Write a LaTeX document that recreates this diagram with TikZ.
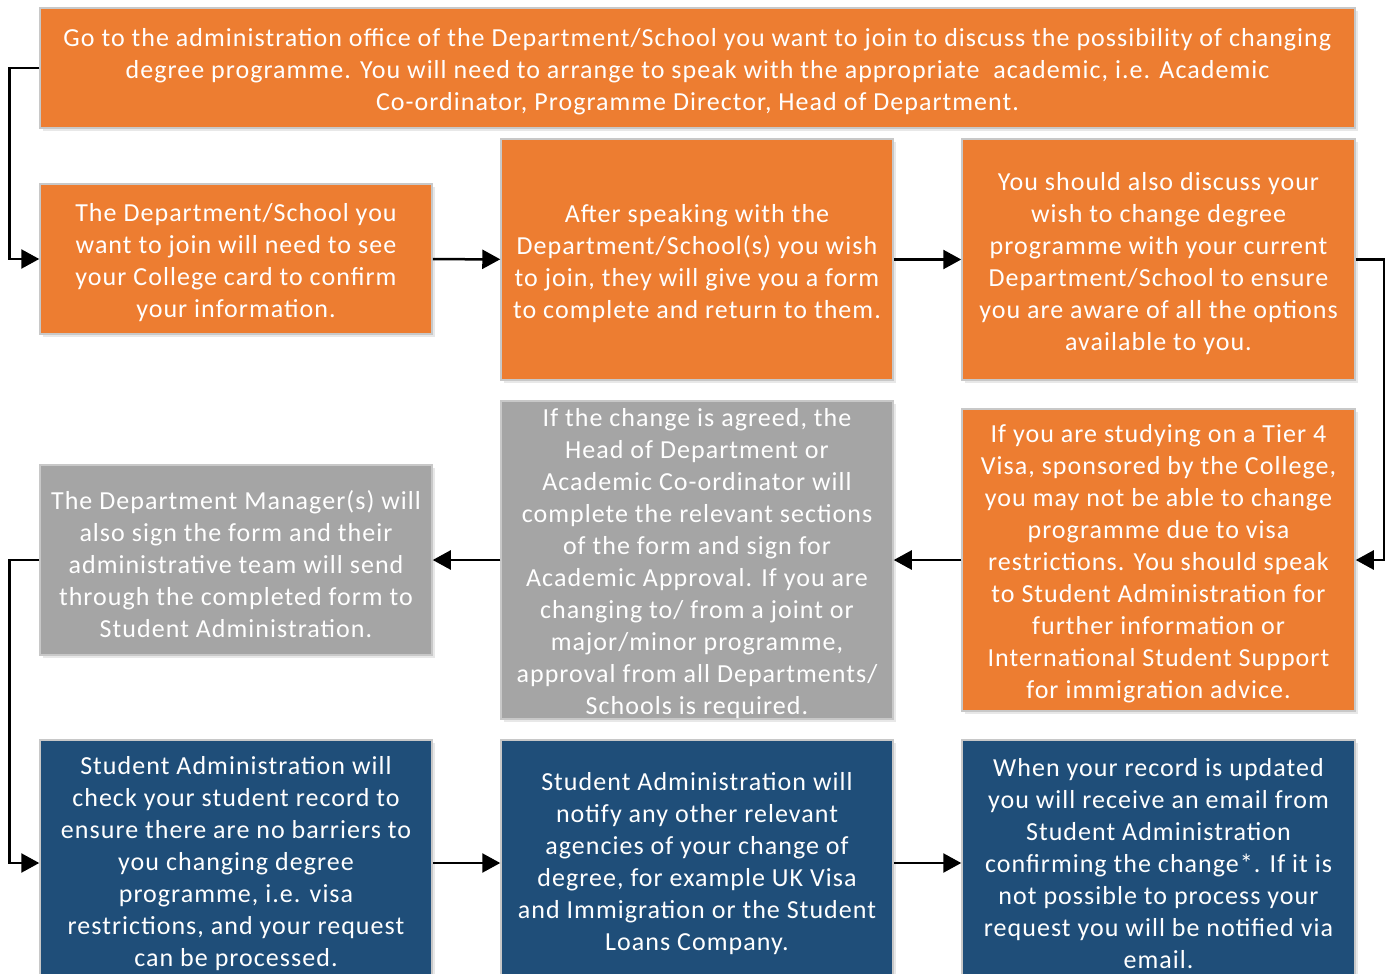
\documentclass[tikz,border=0pt]{standalone}
\usepackage{fontspec}
\setmainfont{Carlito}[LetterSpace=4]
\usetikzlibrary{arrows.meta,shadows}
\definecolor{orangebox}{HTML}{ED7D31}
\definecolor{graybox}{HTML}{A5A5A5}
\definecolor{bluebox}{HTML}{1F4E79}
\definecolor{edgegray}{HTML}{C8C8C8}
\tikzset{
  card/.style={draw=edgegray, line width=1.5pt, inner sep=0pt,
    drop shadow={opacity=0.18, shadow xshift=3pt, shadow yshift=-3pt}},
  cardtext/.style={text=white, align=center, inner sep=0pt,
    font=\fontsize{26}{32}\selectfont},
  orangecard/.style={card, fill=orangebox},
  graycard/.style={card, fill=graybox},
  bluecard/.style={card, fill=bluebox},
  link/.style={draw=black, line width=2.5pt, -{Triangle[length=18pt,width=19pt]}},
}
% #1 style, #2 name, #3-#6 x1 x2 y1 y2, #7 text drop, #8 text
\newcommand{\boxat}[8]{%
  \node[#1, minimum width=#4-#3, minimum height=#6-#5] (#2) at ({(#3+#4)/2},{(#5+#6)/2}) {};
  \node[cardtext] (#2-text) at ([yshift=-#7]#2.center) {#8};}
\begin{document}
\begin{tikzpicture}[x=1pt,y=-1pt]
\path[use as bounding box] (0,0) rectangle (1390,974);
\clip (0,0) rectangle (1390,974);
\fill[white] (0,0) rectangle (1390,974);
\boxat{orangecard}{top}{40}{1355}{8}{128}{4pt}{Go to the administration office of the Department/School you want to join to discuss the possibility of changing\\ degree programme. You will need to arrange to speak with the appropriate\ \ academic, i.e. Academic\\ Co-ordinator, Programme Director, Head of Department.}
\boxat{orangecard}{a}{40}{432}{184}{334}{4pt}{The Department/School you\\ want to join will need to see\\ your College card to confirm\\ your information.}
\boxat{orangecard}{b}{501}{893}{139}{380}{4pt}{After speaking with the\\ Department/School(s) you wish\\ to join, they will give you a form\\ to complete and return to them.}
\boxat{orangecard}{c}{962}{1355}{139}{380}{4pt}{You should also discuss your\\ wish to change degree\\ programme with your current\\ Department/School to ensure\\ you are aware of all the options\\ available to you.}
\boxat{graycard}{d}{40}{432}{465}{655}{4pt}{The Department Manager(s) will\\ also sign the form and their\\ administrative team will send\\ through the completed form to\\ Student Administration.}
\boxat{graycard}{e}{501}{893}{401}{719}{4pt}{If the change is agreed, the\\ Head of Department or\\ Academic Co-ordinator will\\ complete the relevant sections\\ of the form and sign for\\ Academic Approval. If you are\\ changing to/ from a joint or\\ major/minor programme,\\ approval from all Departments/\\ Schools is required.}
\boxat{orangecard}{f}{962}{1355}{409}{711}{4pt}{If you are studying on a Tier 4\\ Visa, sponsored by the College,\\ you may not be able to change\\ programme due to visa\\ restrictions. You should speak\\ to Student Administration for\\ further information or\\ International Student Support\\ for immigration advice.}
\boxat{bluecard}{g}{40}{432}{740}{986}{1pt}{Student Administration will\\ check your student record to\\ ensure there are no barriers to\\ you changing degree\\ programme, i.e. visa\\ restrictions, and your request\\ can be processed.}
\boxat{bluecard}{h}{501}{893}{740}{986}{1pt}{Student Administration will\\ notify any other relevant\\ agencies of your change of\\ degree, for example UK Visa\\ and Immigration or the Student\\ Loans Company.}
\boxat{bluecard}{i}{962}{1355}{740}{986}{1pt}{When your record is updated\\ you will receive an email from\\ Student Administration\\ confirming the change*. If it is\\ not possible to process your\\ request you will be notified via\\ email.}
\draw[link] (top.west) -- ++(-30,0) |- (a.west);
\draw[link] (a) -- (b);
\draw[link] (b) -- (c);
\draw[link] (c.east) -- ++(28,0) |- (f.east);
\draw[link] (f) -- (e);
\draw[link] (e) -- (d);
\draw[link] (d.west) -- ++(-30,0) |- (g.west);
\draw[link] (g) -- (h);
\draw[link] (h) -- (i);
\end{tikzpicture}
\end{document}
